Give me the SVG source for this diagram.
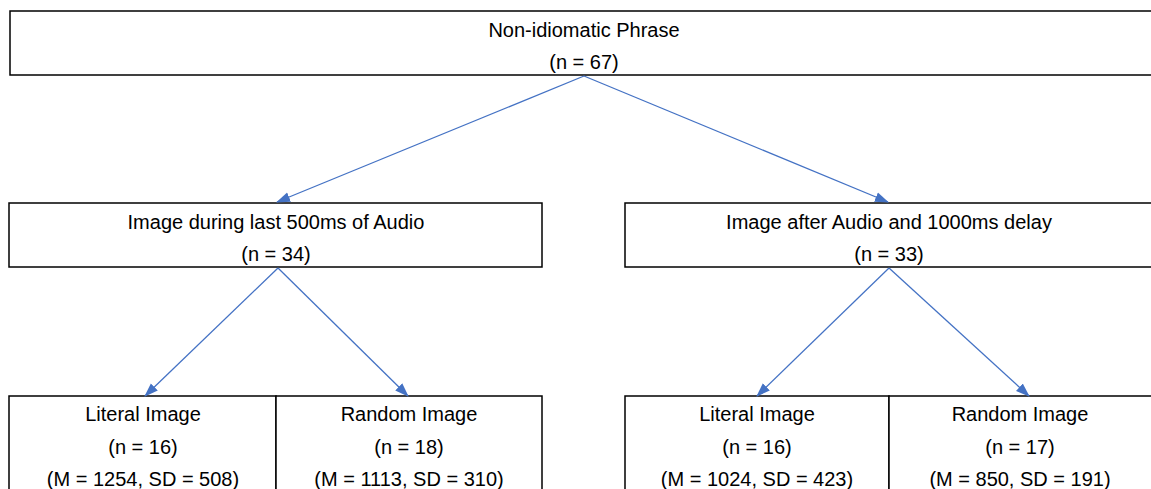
<svg xmlns="http://www.w3.org/2000/svg" width="1151" height="489" viewBox="0 0 1151 489">
<style>
.box{fill:#fff;stroke:#000;stroke-width:1.5}
.t{font-family:"Liberation Sans",Arial,sans-serif;font-size:20px;fill:#000;text-anchor:middle}
.c{stroke:#4472C4;stroke-width:1.3;fill:none;marker-end:url(#ah)}
</style>
<defs>
<marker id="ah" markerUnits="userSpaceOnUse" markerWidth="14" markerHeight="12" refX="13" refY="5" orient="auto" viewBox="0 0 14 10">
<path d="M0,0 L14,5 L0,10 Z" fill="#4472C4"/>
</marker>
</defs>
<rect width="1151" height="489" fill="#fff"/>
<g id="node-root">
<rect class="box" x="10" y="11" width="1150" height="64"/>
<text class="t" x="584" y="37">Non-idiomatic Phrase</text>
<text class="t" x="584" y="69">(n = 67)</text>
</g>
<g id="node-during">
<rect class="box" x="9" y="203" width="533" height="64"/>
<text class="t" x="276" y="229">Image during last 500ms of Audio</text>
<text class="t" x="276" y="261">(n = 34)</text>
</g>
<g id="node-after">
<rect class="box" x="625" y="203" width="535" height="64"/>
<text class="t" x="889" y="229">Image after Audio and 1000ms delay</text>
<text class="t" x="889" y="261">(n = 33)</text>
</g>
<g id="node-during-literal">
<rect class="box" x="9" y="396" width="267" height="110"/>
<text class="t" x="143" y="421">Literal Image</text>
<text class="t" x="143" y="454">(n = 16)</text>
<text class="t" x="143" y="486">(M = 1254, SD = 508)</text>
</g>
<g id="node-during-random">
<rect class="box" x="276" y="396" width="266" height="110"/>
<text class="t" x="409" y="421">Random Image</text>
<text class="t" x="409" y="454">(n = 18)</text>
<text class="t" x="409" y="486">(M = 1113, SD = 310)</text>
</g>
<g id="node-after-literal">
<rect class="box" x="625" y="396" width="264" height="110"/>
<text class="t" x="757" y="421">Literal Image</text>
<text class="t" x="757" y="454">(n = 16)</text>
<text class="t" x="757" y="486">(M = 1024, SD = 423)</text>
</g>
<g id="node-after-random">
<rect class="box" x="889" y="396" width="270" height="110"/>
<text class="t" x="1020" y="421">Random Image</text>
<text class="t" x="1020" y="454">(n = 17)</text>
<text class="t" x="1020" y="486">(M = 850, SD = 191)</text>
</g>
<g id="connectors">
<line class="c" x1="584" y1="76" x2="277" y2="202"/>
<line class="c" x1="584" y1="76" x2="888" y2="202"/>
<line class="c" x1="278" y1="268" x2="145" y2="396"/>
<line class="c" x1="278" y1="268" x2="408" y2="396"/>
<line class="c" x1="889" y1="268" x2="757" y2="396"/>
<line class="c" x1="889" y1="268" x2="1029" y2="396"/>
</g>
</svg>
